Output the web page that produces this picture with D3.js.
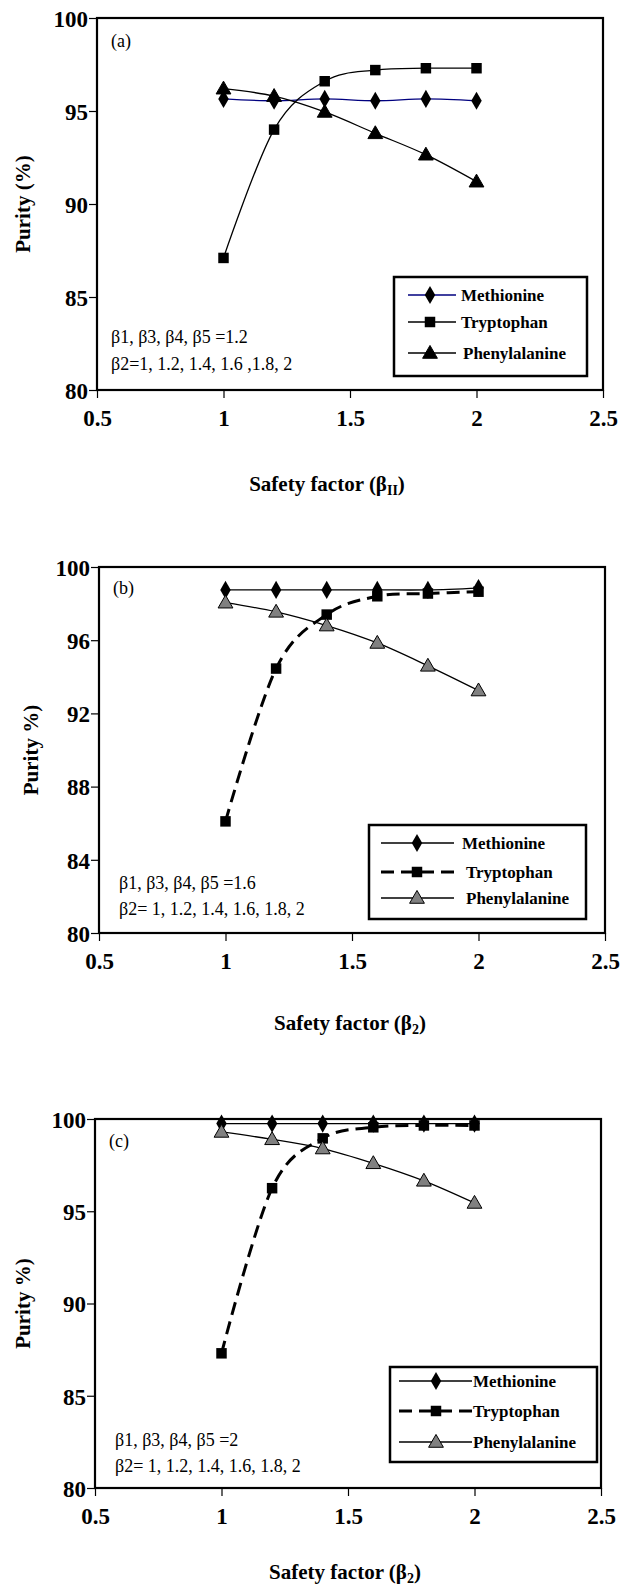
<!DOCTYPE html>
<html>
<head>
<meta charset="utf-8">
<script src="https://cdn.jsdelivr.net/npm/d3@7"></script>
<style>
  body { margin: 0; background: #fff; }
  svg { display: block; }
  svg text { font-family: "Liberation Serif", "Times New Roman", serif; fill: #000; }
  .tick text { font-weight: bold; font-size: 23px; }
  .legendText { font-weight: bold; font-size: 17px; }
  .note { font-size: 18px; }
  .axisTitle { font-weight: bold; font-size: 21px; }
</style>
</head>
<body>
<div id="chart"></div>
<script>
// Safety factor values on the x axis (same for all three panels)
var safetyFactor = [1, 1.2, 1.4, 1.6, 1.8, 2];
var xTicks = [0.5, 1, 1.5, 2, 2.5];

// Panel (a): beta1, beta3, beta4, beta5 = 1.2
var methionineA = [95.65, 95.55, 95.65, 95.55, 95.65, 95.55];
var tryptophanA = [87.1, 94.0, 96.6, 97.2, 97.3, 97.3];
var phenylalanineA = [96.2, 95.8, 94.95, 93.8, 92.65, 91.2];
var yTicksA = [80, 85, 90, 95, 100];

// Panel (b): beta1, beta3, beta4, beta5 = 1.6
var methionineB = [98.75, 98.75, 98.75, 98.75, 98.75, 98.85];
var tryptophanB = [86.1, 94.45, 97.4, 98.4, 98.55, 98.65];
var phenylalanineB = [98.05, 97.55, 96.8, 95.85, 94.6, 93.25];
var yTicksB = [80, 84, 88, 92, 96, 100];

// Panel (c): beta1, beta3, beta4, beta5 = 2
var methionineC = [99.75, 99.75, 99.75, 99.75, 99.75, 99.75];
var tryptophanC = [87.3, 96.25, 98.95, 99.55, 99.65, 99.65];
var phenylalanineC = [99.3, 98.9, 98.4, 97.6, 96.65, 95.45];
var yTicksC = [80, 85, 90, 95, 100];

var seriesNames = ["Methionine", "Tryptophan", "Phenylalanine"];

var svgWidth = 621;
var svgHeight = 1586;

var svg = d3.select("#chart")
  .append("svg")
  .attr("width", svgWidth)
  .attr("height", svgHeight);

// layout of each panel (plot frame, legend box, notes)
var panels = [
  {
    label: "(a)", left: 97, right: 603, top: 18, bottom: 390,
    yTicks: yTicksA,
    values: [methionineA, tryptophanA, phenylalanineA],
    metColor: "#00007f", dashed: false, triFill: "#000",
    legend: {x0: 394, x1: 587, y0: 277, y1: 376, rows: [295, 322, 353], lx0: 408, lx1: 456, mx: 430, tx: [461, 461, 463]},
    notes: ["\u03b21, \u03b23, \u03b24, \u03b25 =1.2", "\u03b22=1, 1.2, 1.4, 1.6 ,1.8, 2"],
    noteX: 111, noteY: [343, 370], labelY: 47,
    yTitle: "Purity (%)", yTitleX: 23, xTitleX: 327, xTitleY: 491, sub: "II"
  },
  {
    label: "(b)", left: 99, right: 605, top: 567, bottom: 933,
    yTicks: yTicksB,
    values: [methionineB, tryptophanB, phenylalanineB],
    metColor: "#000", dashed: true, triFill: "#808080",
    legend: {x0: 369, x1: 586, y0: 825, y1: 919, rows: [843, 872, 898], lx0: 381, lx1: 454, mx: 417, tx: [462, 466, 466]},
    notes: ["\u03b21, \u03b23, \u03b24, \u03b25 =1.6", "\u03b22= 1, 1.2, 1.4, 1.6, 1.8, 2"],
    noteX: 119, noteY: [889, 915], labelY: 594,
    yTitle: "Purity %)", yTitleX: 31, xTitleX: 350, xTitleY: 1030, sub: "2"
  },
  {
    label: "(c)", left: 95, right: 601, top: 1119, bottom: 1488,
    yTicks: yTicksC,
    values: [methionineC, tryptophanC, phenylalanineC],
    metColor: "#000", dashed: true, triFill: "#808080",
    legend: {x0: 390, x1: 597, y0: 1367, y1: 1462, rows: [1381, 1411, 1442], lx0: 399, lx1: 472, mx: 436, tx: [473, 473, 473]},
    notes: ["\u03b21, \u03b23, \u03b24, \u03b25 =2", "\u03b22= 1, 1.2, 1.4, 1.6, 1.8, 2"],
    noteX: 115, noteY: [1446, 1472], labelY: 1147,
    yTitle: "Purity %)", yTitleX: 23, xTitleX: 345, xTitleY: 1579, sub: "2"
  }
];

function drawMarker(g, kind, x, y, p) {
  if (kind === 0) {
    g.append("path")
      .attr("d", d3.symbol().type(d3.symbolDiamond).size(95)())
      .attr("transform", "translate(" + x + "," + y + ")")
      .attr("fill", "#000");
  } else if (kind === 1) {
    g.append("path")
      .attr("d", d3.symbol().type(d3.symbolSquare).size(110)())
      .attr("transform", "translate(" + x + "," + y + ")")
      .attr("fill", "#000");
  } else {
    g.append("path")
      .attr("d", d3.symbol().type(d3.symbolTriangle).size(95)())
      .attr("transform", "translate(" + x + "," + (y + 1) + ")")
      .attr("fill", p.triFill)
      .attr("stroke", "#000")
      .attr("stroke-width", 1);
  }
}

function drawPanel(p) {
  var g = svg.append("g");

  var xScale = d3.scaleLinear().domain([0.5, 2.5]).range([p.left, p.right]);
  var yScale = d3.scaleLinear().domain([80, 100]).range([p.bottom, p.top]);

  // axes
  var xAxis = d3.axisBottom(xScale).tickValues(xTicks).tickSize(8).tickPadding(5)
    .tickFormat(d3.format("~g"));
  var yAxis = d3.axisLeft(yScale).tickValues(p.yTicks).tickSize(8).tickPadding(1)
    .tickFormat(d3.format("d"));

  var gx = g.append("g")
    .attr("transform", "translate(0," + p.bottom + ")")
    .call(xAxis);
  gx.selectAll(".tick text").attr("dy", "1em");

  var gy = g.append("g")
    .attr("transform", "translate(" + p.left + ",0)")
    .call(yAxis);
  gy.selectAll(".tick text").attr("dy", "0.36em");

  g.selectAll(".domain").remove();
  g.selectAll(".tick line").attr("stroke", "#000").attr("stroke-width", 1.2);

  // plot frame
  g.append("rect")
    .attr("x", p.left)
    .attr("y", p.top)
    .attr("width", p.right - p.left)
    .attr("height", p.bottom - p.top)
    .attr("fill", "none")
    .attr("stroke", "#000")
    .attr("stroke-width", 2.2);

  // Excel style smoothed line
  var line = d3.line()
    .x(function(d, i) { return xScale(safetyFactor[i]); })
    .y(function(d) { return yScale(d); })
    .curve(d3.curveCatmullRom.alpha(0));

  // lines first, then markers on top
  p.values.forEach(function(vals, k) {
    var path = g.append("path")
      .datum(vals)
      .attr("d", line)
      .attr("fill", "none")
      .attr("stroke", k === 0 ? p.metColor : "#000")
      .attr("stroke-width", (k === 1 && p.dashed) ? 3 : 1.3);
    if (k === 1 && p.dashed) {
      path.attr("stroke-dasharray", "13,7");
    }
  });
  p.values.forEach(function(vals, k) {
    vals.forEach(function(v, i) {
      drawMarker(g, k, xScale(safetyFactor[i]), yScale(v), p);
    });
  });

  // panel label
  g.append("text")
    .attr("x", p.left + 14)
    .attr("y", p.labelY)
    .attr("class", "note")
    .text(p.label);

  // parameter notes
  p.notes.forEach(function(t, i) {
    g.append("text")
      .attr("x", p.noteX)
      .attr("y", p.noteY[i])
      .attr("class", "note")
      .text(t);
  });

  // legend
  var L = p.legend;
  g.append("rect")
    .attr("x", L.x0)
    .attr("y", L.y0)
    .attr("width", L.x1 - L.x0)
    .attr("height", L.y1 - L.y0)
    .attr("fill", "#fff")
    .attr("stroke", "#000")
    .attr("stroke-width", 2.5);

  seriesNames.forEach(function(name, k) {
    var yy = L.rows[k];
    var ln = g.append("line")
      .attr("x1", L.lx0)
      .attr("x2", L.lx1)
      .attr("y1", yy)
      .attr("y2", yy)
      .attr("stroke", k === 0 ? p.metColor : "#000")
      .attr("stroke-width", (k === 1 && p.dashed) ? 3 : 1.3);
    if (k === 1 && p.dashed) {
      ln.attr("stroke-dasharray", "13,7");
    }
    drawMarker(g, k, L.mx, yy, p);
    g.append("text")
      .attr("x", L.tx[k])
      .attr("y", yy + 6)
      .attr("class", "legendText")
      .text(name);
  });

  // axis titles
  g.append("text")
    .attr("class", "axisTitle")
    .attr("text-anchor", "middle")
    .attr("transform", "translate(" + p.yTitleX + "," + ((p.top + p.bottom) / 2) + ")rotate(-90)")
    .attr("dy", "0.35em")
    .text(p.yTitle);

  var xt = g.append("text")
    .attr("class", "axisTitle")
    .attr("text-anchor", "middle")
    .attr("x", p.xTitleX)
    .attr("y", p.xTitleY);
  xt.append("tspan").text("Safety factor (\u03b2");
  xt.append("tspan").attr("font-size", "14px").attr("dy", 4).text(p.sub);
  xt.append("tspan").attr("dy", -4).text(")");
}

panels.forEach(drawPanel);
</script>
</body>
</html>
